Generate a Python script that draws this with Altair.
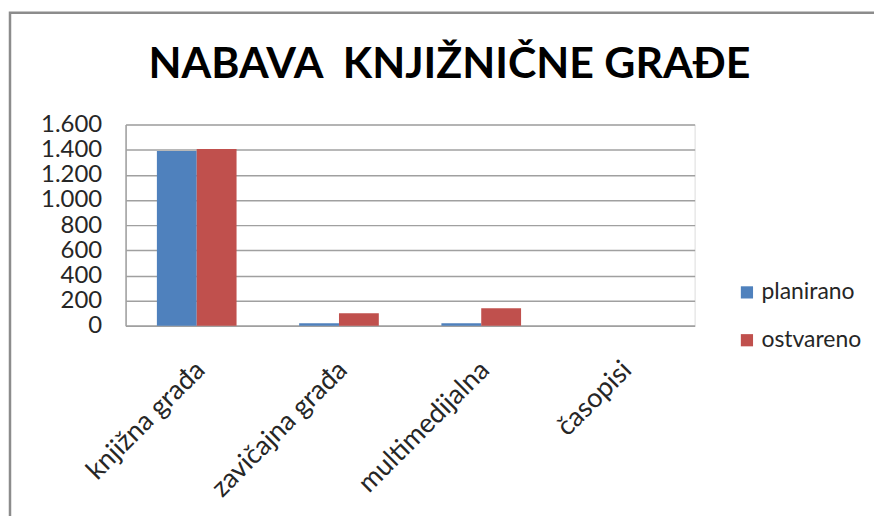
import altair as alt
import pandas as pd

title_text = "NABAVA \u00a0KNJIŽNIČNE GRAĐE"
categories = ["knjižna građa", "zavičajna građa", "multimedijalna", "časopisi"]
planirano = [1390, 20, 20, 0]
ostvareno = [1405, 100, 140, 0]
series = ["planirano", "ostvareno"]
colors = ["#4F81BD", "#C0504D"]
y_ticks = [0, 200, 400, 600, 800, 1000, 1200, 1400, 1600]

rows = []
for c, p, o in zip(categories, planirano, ostvareno):
    rows.append({"kategorija": c, "serija": "planirano", "vrijednost": p})
    rows.append({"kategorija": c, "serija": "ostvareno", "vrijednost": o})
df = pd.DataFrame(rows)

FONT = "Lato"

bars = alt.Chart(df).mark_bar().encode(
    x=alt.X("kategorija:N", sort=categories,
            scale=alt.Scale(paddingInner=0.44, paddingOuter=0.22),
            axis=alt.Axis(title=None, labelAngle=-45, labelAlign="right",
                          labelBaseline="middle", labelPadding=40, labelOffset=4,
                          labelFontSize=27, labelFont=FONT, labelColor="#262626",
                          ticks=False, domainColor="#a0a0a0", domainWidth=1.5,
                          grid=False)),
    xOffset=alt.XOffset("serija:N", sort=series, scale=alt.Scale(paddingInner=0, paddingOuter=0)),
    y=alt.Y("vrijednost:Q",
            scale=alt.Scale(domain=[0, 1600], nice=False),
            axis=alt.Axis(title=None, values=y_ticks,
                          labelExpr="replace(format(datum.value, ','), ',', '.')",
                          labelFontSize=24, labelFont=FONT, labelColor="#262626",
                          labelPadding=24, ticks=False,
                          domainColor="#a0a0a0", domainWidth=1.5,
                          gridColor="#a0a0a0", gridWidth=1.5)),
    color=alt.Color("serija:N", sort=series,
                    scale=alt.Scale(domain=series, range=colors),
                    legend=alt.Legend(title=None, orient="none", legendX=612, legendY=157,
                                      symbolType="square", symbolSize=150,
                                      symbolStrokeWidth=0, labelFontSize=23,
                                      labelFont=FONT, labelColor="#262626",
                                      labelOffset=3, rowPadding=24)),
)

frame = alt.Chart(pd.DataFrame({"a": [0]})).mark_rect(
    fill=None, stroke="#8c8c8c", strokeWidth=2.5, clip=False
).encode(
    x=alt.value(-116), x2=alt.value(900), y=alt.value(-112), y2=alt.value(500)
)

title = alt.Chart(pd.DataFrame({"t": [title_text]})).mark_text(
    font=FONT, fontSize=43, fontWeight="bold", color="#000000",
    align="center", baseline="alphabetic"
).encode(
    text="t:N", x=alt.value(325), y=alt.value(-47)
)

chart = alt.layer(bars, frame, title).properties(
    width=571,
    height=202,
    autosize=alt.AutoSizeParams(type="none"),
    padding={"left": 118, "top": 116, "right": 180, "bottom": 190},
).configure_view(stroke=None).configure(background="white")

chart.save("out.html", embed_options={"renderer": "svg", "actions": False})
